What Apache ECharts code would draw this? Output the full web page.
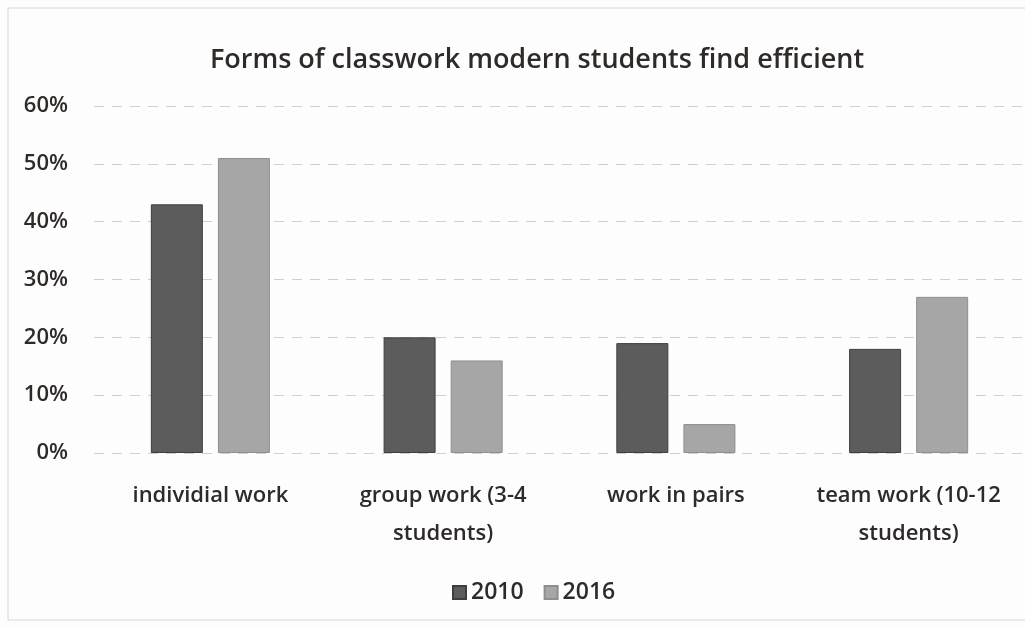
<!DOCTYPE html>
<html><head><meta charset="utf-8">
<script src="https://cdn.jsdelivr.net/npm/echarts@6/dist/echarts.min.js"></script>
<style>html,body{margin:0;padding:0;background:#fff}#c{width:1025px;height:627px}</style>
</head><body><div id="c"></div>
<script>
var categories = ['individial work', 'group work (3-4\nstudents)', 'work in pairs', 'team work (10-12\nstudents)'];
var series2010 = [43, 20, 19, 18];
var series2016 = [51, 16, 5, 27];
var yTicks = [0, 10, 20, 30, 40, 50, 60];

var chart = echarts.init(document.getElementById('c'));
var font = '"Open Sans", "Liberation Sans", sans-serif';
chart.setOption({
  backgroundColor: '#fdfdfd',
  animation: false,
  title: {
    text: 'Forms of classwork modern students find efficient',
    left: 532, top: 42, textAlign: 'center',
    textStyle: { fontFamily: font, fontSize: 27, fontWeight: 600, color: '#2e2a28' }
  },
  legend: {
    data: ['2010', '2016'],
    bottom: 18, left: 447,
    itemWidth: 13, itemHeight: 13, itemGap: 20,
    icon: 'rect',
    textStyle: { fontFamily: font, fontSize: 23, fontWeight: 600, color: '#2e2a28' }
  },
  grid: { left: 94, right: 0, top: 106, bottom: 174 },
  xAxis: {
    type: 'category', data: categories,
    axisLine: { show: false }, axisTick: { show: false },
    axisLabel: { interval: 0, fontFamily: font, fontSize: 22, fontWeight: 600, color: '#2e2a28', margin: 24, lineHeight: 38 }
  },
  yAxis: {
    type: 'value', min: 0, max: 60, interval: 10,
    axisLabel: { formatter: '{value}%', fontFamily: font, fontSize: 22, fontWeight: 600, color: '#2e2a28', margin: 26 },
    axisLine: { show: false }, axisTick: { show: false },
    splitLine: { lineStyle: { color: '#cfcfcf', width: 1, type: [10, 8] } }
  },
  series: [
    { name: '2010', type: 'bar', data: series2010, barWidth: 52, barGap: '29%',
      itemStyle: { color: '#5c5c5c', borderColor: '#3e3e3e', borderWidth: 1 } },
    { name: '2016', type: 'bar', data: series2016, barWidth: 52,
      itemStyle: { color: '#a6a6a6', borderColor: '#8e8e8e', borderWidth: 1 } }
  ],
  graphic: [{ type: 'rect', shape: { x: 8, y: 8, width: 1030, height: 612 }, style: { fill: 'none', stroke: '#d6d6d6', lineWidth: 1 } }]
});
</script></body></html>
